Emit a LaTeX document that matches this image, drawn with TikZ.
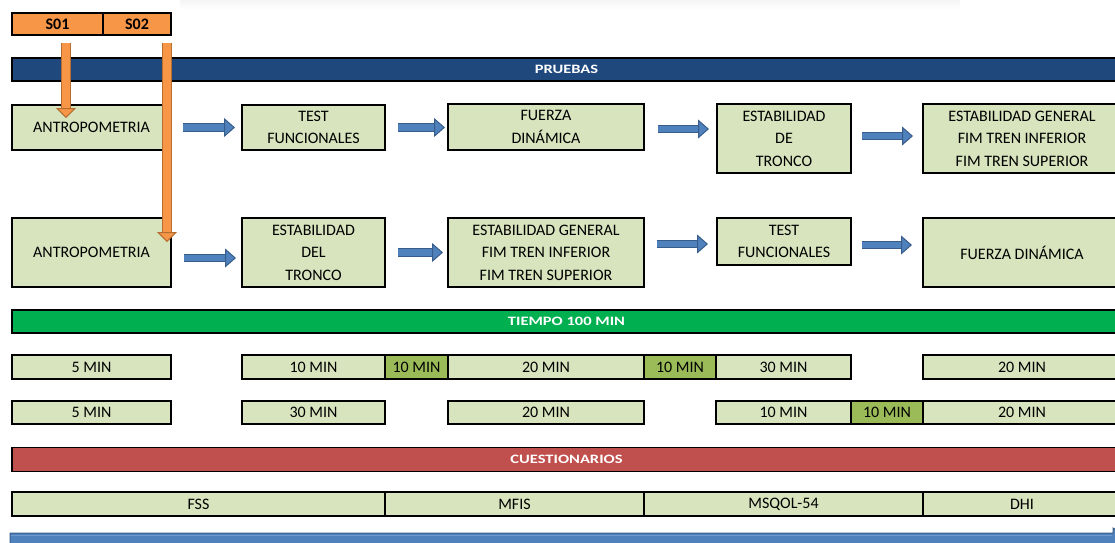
\documentclass[tikz,border=0pt]{standalone}
\usepackage{fontspec}
\setmainfont{Carlito}
\usepackage{graphicx}
\usetikzlibrary{arrows.meta, calc}

\definecolor{azulosc}{HTML}{1F497D}
\definecolor{verdeban}{HTML}{00B050}
\definecolor{rojoban}{HTML}{C0504D}
\definecolor{naranja}{HTML}{F79646}
\definecolor{bordenaranja}{HTML}{B66D31}
\definecolor{verdeclaro}{HTML}{D7E4BD}
\definecolor{verdemed}{HTML}{9BBB59}
\definecolor{azul}{HTML}{4F81BD}
\definecolor{azulclaro}{HTML}{6F98CC}
\definecolor{bordeazul}{HTML}{385D8A}

\newcommand{\bantxt}[1]{\scalebox{1.03}[0.8]{\bfseries #1}}

\tikzset{
  caja/.style={draw=black, line width=1.6pt, fill=verdeclaro, inner sep=0pt, outer sep=0pt,
    align=center, font=\fontsize{16}{22.5}\selectfont},
  celda/.style={caja, minimum height=24pt},
  celdaosc/.style={celda, fill=verdemed},
  sesion/.style={caja, fill=naranja, minimum height=22pt, font=\fontsize{16}{20}\selectfont\bfseries},
  banda/.style={draw=black, line width=1.6pt, inner sep=0pt, outer sep=0pt, text=white,
    minimum width=1109pt, minimum height=23pt, font=\fontsize{16}{20}\selectfont},
  flechaazul/.style={draw=azul, line width=6.5pt,
    -{Triangle[width=19pt, length=11pt, line width=1pt, color=bordeazul, fill=azul]},
    preaction={draw=bordeazul, line width=8.5pt, shorten >=10pt, -}},
  flechanaranja/.style={draw=naranja, line width=8.5pt,
    -{Triangle[width=20pt, length=10pt, line width=1pt, color=bordenaranja, fill=naranja]},
    preaction={draw=bordenaranja, line width=10.5pt, shorten >=9pt, -}}
}

\begin{document}
\begin{tikzpicture}[x=1pt, y=-1pt]
  \useasboundingbox (0,0) rectangle (1115,542);
  \clip (0,0) rectangle (1115,542);

  % sombra superior
  \shade[top color=black!4, bottom color=white] (180,0) rectangle (960,10);

  % sesiones
  \node[sesion, minimum width=91pt] (s01) at (57.5,24) {S01};
  \node[sesion, minimum width=68pt] (s02) at (137,24) {S02};

  \node[banda, fill=azulosc] (pruebas) at (566.5,69.5) {\bantxt{PRUEBAS}};

  % sesion 1
  \node[caja, minimum width=159pt, minimum height=45pt] (ant1) at (91.5,127.5) {ANTROPOMETRIA};
  \node[caja, minimum width=143pt, minimum height=45pt] (tf1) at (313.5,127.5) {TEST\\FUNCIONALES};
  \node[caja, minimum width=196pt, minimum height=46pt] (fz1) at (546,127) {FUERZA\\DINÁMICA};
  \node[caja, minimum width=134pt, minimum height=69pt] (ed1) at (784,138.5) {ESTABILIDAD\\DE\\TRONCO};
  \node[caja, minimum width=198pt, minimum height=69pt] (eg1) at (1022,138.5) {ESTABILIDAD GENERAL\\FIM TREN INFERIOR\\FIM TREN SUPERIOR};

  % sesion 2
  \node[caja, minimum width=159pt, minimum height=69pt] (ant2) at (91.5,252.5) {ANTROPOMETRIA};
  \node[caja, minimum width=143pt, minimum height=69pt] (edt2) at (313.5,252.5) {ESTABILIDAD\\DEL\\TRONCO};
  \node[caja, minimum width=196pt, minimum height=69pt] (eg2) at (546,252.5) {ESTABILIDAD GENERAL\\FIM TREN INFERIOR\\FIM TREN SUPERIOR};
  \node[caja, minimum width=134pt, minimum height=47pt] (tf2) at (784,241.5) {TEST\\FUNCIONALES};
  \node[caja, minimum width=198pt, minimum height=69pt] (fd2) at (1022,252.5) {FUERZA DINÁMICA};

  \draw[flechaazul] ([xshift=12pt]ant1.east) -- ([xshift=-7pt]ant1.east -| tf1.west);
  \draw[flechaazul] ([xshift=13pt]tf1.east) -- ([xshift=-3pt]tf1.east -| fz1.west);
  \draw[flechaazul] ([xshift=14pt,yshift=-2pt]fz1.east) -- ([xshift=-8pt,yshift=-2pt]fz1.east -| ed1.west);
  \draw[flechaazul] ([xshift=11pt,yshift=2.5pt]ed1.east) -- ([xshift=-10pt,yshift=2.5pt]ed1.east -| eg1.west);

  \draw[flechaazul] ([xshift=13pt,yshift=-5.5pt]ant2.east) -- ([xshift=-6pt,yshift=-5.5pt]ant2.east -| edt2.west);
  \draw[flechaazul] ([xshift=13pt]edt2.east) -- ([xshift=-5pt]edt2.east -| eg2.west);
  \draw[flechaazul] ([xshift=13pt,yshift=-2.5pt]eg2.east |- tf2.west) -- ([xshift=-9pt,yshift=-2.5pt]tf2.west);
  \draw[flechaazul] ([xshift=11pt,yshift=-3.5pt]tf2.east) -- ([xshift=-11pt,yshift=-3.5pt]tf2.east -| fd2.west);

  \node[banda, fill=verdeban] (tiempo) at (566.5,321.5) {\bantxt{TIEMPO 100 MIN}};

  % tiempos sesion 1
  \node[celda, minimum width=159pt] (ta1) at (91.5,367) {5 MIN};
  \node[celda, minimum width=143pt] (ta2) at (313.5,367) {10 MIN};
  \node[celdaosc, minimum width=63pt] (ta3) at (416.5,367) {10 MIN};
  \node[celda, minimum width=196pt] (ta4) at (546,367) {20 MIN};
  \node[celdaosc, minimum width=72pt] (ta5) at (680,367) {10 MIN};
  \node[celda, minimum width=135pt] (ta6) at (783.5,367) {30 MIN};
  \node[celda, minimum width=198pt] (ta7) at (1022,367) {20 MIN};

  % tiempos sesion 2
  \node[celda, minimum width=159pt, minimum height=23pt] (tb1) at (91.5,412.5) {5 MIN};
  \node[celda, minimum width=143pt, minimum height=23pt] (tb2) at (313.5,412.5) {30 MIN};
  \node[celda, minimum width=196pt, minimum height=23pt] (tb3) at (546,412.5) {20 MIN};
  \node[celda, minimum width=135pt, minimum height=23pt] (tb4) at (783.5,412.5) {10 MIN};
  \node[celdaosc, minimum width=72pt, minimum height=23pt] (tb5) at (887,412.5) {10 MIN};
  \node[celda, minimum width=198pt, minimum height=23pt] (tb6) at (1022,412.5) {20 MIN};

  \node[banda, fill=rojoban, minimum height=24pt] (cuest) at (566.5,459.5) {\bantxt{CUESTIONARIOS}};

  \node[celda, minimum width=373pt] (fss) at (198.5,504) {FSS};
  \node[celda, minimum width=259pt] (mfis) at (514.5,504) {MFIS};
  \node[celda, minimum width=279pt] (msqol) at (783.5,504) {MSQOL-54};
  \node[celda, minimum width=198pt] (dhi) at (1022,504) {DHI};

  % eje de tiempo
  \filldraw[fill=azul, draw=bordeazul, line width=1pt]
    (10,533) -- (1113,533) -- (1113,528) -- (1160,552) -- (1113,576) -- (1113,571) -- (10,571) -- cycle;
  \draw[azulclaro, line width=1.5pt] (11,535.5) -- (1112,535.5);

  % entrada de cada sesion
  \draw[flechanaranja] ($(s01.south)+(8.5pt,-8pt)$) -- ($(s01.south |- ant1.north)+(8.5pt,-13pt)$);
  \draw[flechanaranja] ($(s02.south east)+(-4pt,-8pt)$) -- ($(ant2.north east)+(-4pt,-24pt)$);
\end{tikzpicture}
\end{document}
